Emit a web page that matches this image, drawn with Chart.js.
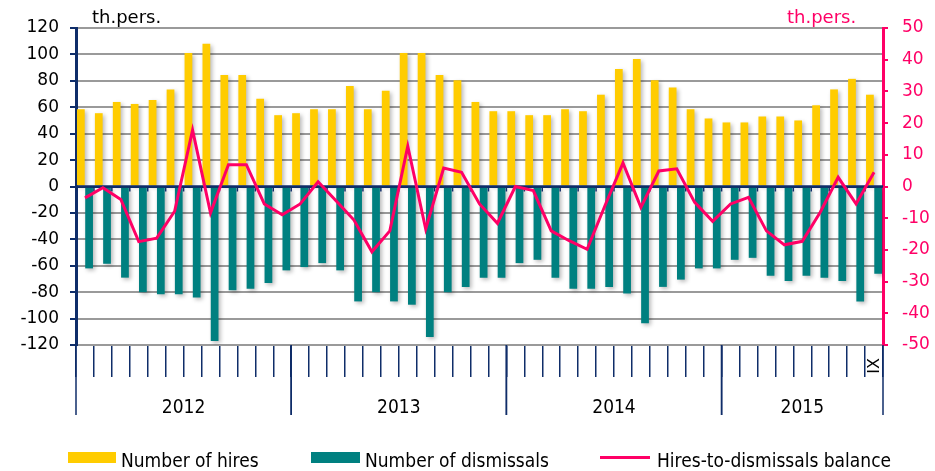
<!DOCTYPE html>
<html>
<head>
<meta charset="utf-8">
<title>Hires and dismissals</title>
<script src="https://cdn.jsdelivr.net/npm/chart.js@4.4.0/dist/chart.umd.min.js"></script>
<style>
body { margin: 0; background: #fff; }
#wrap { position: relative; width: 935px; height: 471px; overflow: hidden; font-family: "DejaVu Sans", sans-serif; }
#wrap canvas { position: absolute; left: 0; top: 0; }
.unit { position: absolute; top: 8px; font-size: 18px; line-height: 18px; white-space: nowrap; }
.leg { position: absolute; top: 451px; font-family: "DejaVu Sans Condensed", "DejaVu Sans", sans-serif; font-size: 19px; line-height: 19px; white-space: nowrap; color: #000; }
.sw { position: absolute; }
</style>
</head>
<body>
<div id="wrap">
    <canvas id="chart" width="935" height="471"></canvas>
    <div class="unit" style="left:92px;color:#000;">th.pers.</div>
    <div class="unit" style="left:787px;color:#ff0066;">th.pers.</div>
    <div class="sw" style="left:68px;top:452px;width:48px;height:11px;background:#ffcc00;"></div>
    <div class="leg" style="left:121px;">Number of hires</div>
    <div class="sw" style="left:311px;top:452px;width:49px;height:11px;background:#008080;"></div>
    <div class="leg" style="left:365px;">Number of dismissals</div>
    <div class="sw" style="left:600px;top:456px;width:50px;height:3px;background:#ff0066;"></div>
    <div class="leg" style="left:657px;">Hires-to-dismissals balance</div>
</div>
<script>
// Data (thousand persons)
const years = ['2012', '2013', '2014', '2015'];
const monthsPerYear = [12, 12, 12, 9];
const romanMonths = ['I', 'II', 'III', 'IV', 'V', 'VI', 'VII', 'VIII', 'IX', 'X', 'XI', 'XII'];

const hires = [
    58.5, 55.5, 64, 62.5, 65.5, 73.5, 101, 108, 84.5, 84.5, 66.5, 54,
    55.5, 58.5, 58.5, 76, 58.5, 72.5, 101, 101, 84.5, 80.5, 64, 57,
    57, 54, 54, 58.5, 57, 69.5, 89, 96.5, 80.5, 75, 58.5, 51.5,
    48.5, 48.5, 53, 53, 50, 61.5, 73.5, 81.5, 69.5
];
const dismissals = [
    -62, -58.5, -69, -80, -81.5, -81.5, -84, -117, -78.5, -77.5, -73, -63.5,
    -61, -58, -63.5, -87, -80, -87, -89.5, -114, -80, -76, -69, -69,
    -58, -55.5, -69, -77.5, -77.5, -76, -81, -103.5, -76, -70.5, -62, -62,
    -55.5, -54, -67.5, -71.5, -67.5, -69, -71.5, -87, -66
];
const balance = [
    -3.6, -0.4, -4.1, -17.4, -16.3, -7.8, 17.8, -8.3, 6.9, 6.9, -5.5, -8.9,
    -5.5, 1.5, -4.5, -10.6, -20.6, -14, 12.7, -13.4, 5.8, 4.5, -5.5, -11.6,
    0, -1.3, -14, -17.1, -19.8, -6, 7.4, -6.6, 4.9, 5.6, -5, -11,
    -5.5, -3.4, -14, -18.4, -17.3, -8.1, 2.9, -5.5, 4.5
];
// min, max, step of the two value axes
const leftTicks = [-120, 120, 20];
const rightTicks = [-50, 50, 10];

// Category labels: one per month
const labels = [];
years.forEach(function(year, i) {
    for (let m = 0; m < monthsPerYear[i]; m++) {
        labels.push(romanMonths[m] + ' ' + year);
    }
});

const navy = '#0f2d69';
const magenta = '#ff0066';

// Shadows under bars, zero line, year separators and labels
const decorations = {
    id: 'decorations',
    beforeDatasetDraw(chart, args) {
        const ctx = chart.ctx;
        if (args.meta.type === 'bar') {
            ctx.save();
            ctx.shadowColor = 'rgba(0,0,0,0.28)';
            ctx.shadowBlur = 4;
            ctx.shadowOffsetX = 2;
            ctx.shadowOffsetY = 2;
        } else {
            // zero line drawn over the bars, under the balance line
            const x = chart.scales.x;
            const y0 = chart.scales.y.getPixelForValue(0);
            const area = chart.chartArea;
            const step = (area.right - area.left) / labels.length;
            ctx.save();
            ctx.strokeStyle = navy;
            ctx.lineWidth = 2.5;
            ctx.beginPath();
            ctx.moveTo(area.left, y0);
            ctx.lineTo(area.right, y0);
            ctx.stroke();
            ctx.lineWidth = 1.5;
            for (let i = 1; i < labels.length; i++) {
                const px = x.getPixelForValue(i) - step / 2;
                ctx.beginPath();
                ctx.moveTo(px, y0);
                ctx.lineTo(px, y0 + 5);
                ctx.stroke();
            }
            ctx.restore();
        }
    },
    afterDatasetDraw(chart, args) {
        if (args.meta.type === 'bar') {
            chart.ctx.restore();
        }
    },
    afterDraw(chart) {
        const ctx = chart.ctx;
        const x = chart.scales.x;
        const area = chart.chartArea;
        const step = (area.right - area.left) / labels.length;
        ctx.save();
        ctx.strokeStyle = navy;
        ctx.lineWidth = 1.5;
        let start = 0;
        const edges = [];
        years.forEach(function(year, i) {
            const left = x.getPixelForValue(start) - step / 2;
            const right = x.getPixelForValue(start + monthsPerYear[i] - 1) + step / 2;
            edges.push(left, right);
            ctx.fillStyle = '#000';
            ctx.font = '19px "DejaVu Sans Condensed", "DejaVu Sans", sans-serif';
            ctx.textAlign = 'center';
            ctx.textBaseline = 'alphabetic';
            ctx.fillText(year, (left + right) / 2, 413);
            start += monthsPerYear[i];
        });
        edges.forEach(function(px) {
            ctx.beginPath();
            ctx.moveTo(px, area.bottom);
            ctx.lineTo(px, 415);
            ctx.stroke();
        });
        // label of the last month, rotated
        const lastMonth = romanMonths[monthsPerYear[monthsPerYear.length - 1] - 1];
        ctx.translate(x.getPixelForValue(labels.length - 1) + 1, 366);
        ctx.rotate(-Math.PI / 2);
        ctx.font = '16px "DejaVu Sans", sans-serif';
        ctx.textAlign = 'center';
        ctx.textBaseline = 'middle';
        ctx.fillText(lastMonth, 0, 0);
        ctx.restore();
    }
};

const chartConfig = {
    type: 'bar',
    data: {
        labels: labels,
        datasets: [{
            label: 'Number of hires',
            data: hires,
            backgroundColor: '#ffcc00',
            yAxisID: 'y',
            order: 1,
            categoryPercentage: 0.92,
            barPercentage: 0.94
        }, {
            label: 'Number of dismissals',
            data: dismissals,
            backgroundColor: '#008080',
            yAxisID: 'y',
            order: 1,
            categoryPercentage: 0.92,
            barPercentage: 0.94
        }, {
            type: 'line',
            label: 'Hires-to-dismissals balance',
            data: balance,
            borderColor: magenta,
            borderWidth: 3,
            pointRadius: 0,
            tension: 0,
            yAxisID: 'y2',
            order: 0
        }]
    },
    options: {
        responsive: false,
        animation: false,
        layout: { padding: { top: 28, left: 0, right: 0, bottom: 0 } },
        plugins: {
            legend: { display: false },
            tooltip: { enabled: false }
        },
        scales: {
            x: {
                grid: {
                    drawOnChartArea: false,
                    offset: true,
                    color: navy,
                    lineWidth: 1.5,
                    tickLength: 32
                },
                border: { display: false },
                ticks: { display: false },
                afterFit: function(scale) { scale.height = 126; }
            },
            y: {
                position: 'left',
                min: leftTicks[0],
                max: leftTicks[1],
                ticks: {
                    stepSize: leftTicks[2],
                    color: '#000',
                    padding: 11,
                    font: { family: '"DejaVu Sans", sans-serif', size: 17 }
                },
                grid: {
                    color: function(c) { return c.tick && c.tick.value === 0 ? navy : '#9a9a9a'; },
                    lineWidth: 2,
                    tickColor: navy,
                    tickLength: 6
                },
                border: { color: navy, width: 3 },
                afterFit: function(scale) { scale.width = 76; }
            },
            y2: {
                position: 'right',
                min: rightTicks[0],
                max: rightTicks[1],
                ticks: {
                    stepSize: rightTicks[2],
                    color: magenta,
                    padding: 14,
                    font: { family: '"DejaVu Sans", sans-serif', size: 17 }
                },
                grid: {
                    drawOnChartArea: false,
                    tickColor: magenta,
                    tickLength: 5,
                    lineWidth: 2
                },
                border: { color: magenta, width: 3 },
                afterFit: function(scale) { scale.width = 52; }
            }
        }
    },
    plugins: [decorations]
};

const hiresChart = new Chart(document.getElementById('chart'), chartConfig);
</script>
</body>
</html>
